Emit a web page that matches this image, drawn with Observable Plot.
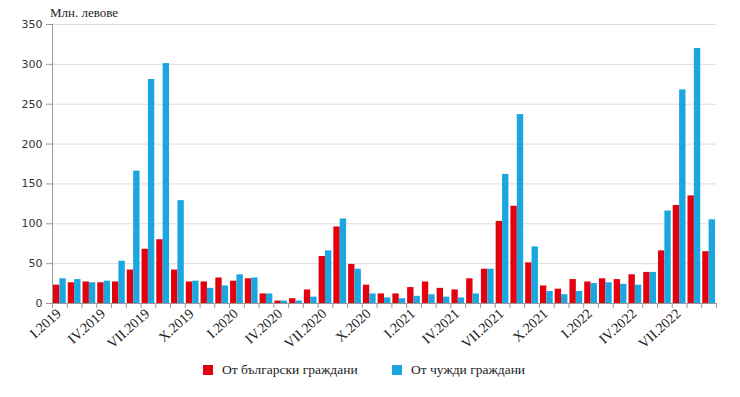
<!DOCTYPE html>
<html>
<head>
<meta charset="utf-8">
<script src="https://cdn.jsdelivr.net/npm/d3@7"></script>
<script src="https://cdn.jsdelivr.net/npm/@observablehq/plot@0.6"></script>
<style>
  html, body { margin: 0; padding: 0; background: #fff; }
  #wrap { position: relative; width: 740px; height: 397px; }
  #unit { position: absolute; left: 50px; top: 5px; font-family: "Liberation Serif", serif; font-size: 13px; color: #222; }
  #legend { position: absolute; left: 0; top: 362px; width: 740px; font-family: "Liberation Serif", serif; font-size: 13.5px; color: #222; }
  .item { position: absolute; top: 0; display: flex; align-items: center; }
  .sw { width: 10px; height: 10px; margin-right: 9px; }
</style>
</head>
<body>
<div id="wrap">
  <div id="chart"></div>
  <div id="unit">Млн. левове</div>
  <div id="legend"></div>
</div>
<script>
const months = [
  "I.2019","II.2019","III.2019","IV.2019","V.2019","VI.2019","VII.2019","VIII.2019","IX.2019","X.2019","XI.2019","XII.2019",
  "I.2020","II.2020","III.2020","IV.2020","V.2020","VI.2020","VII.2020","VIII.2020","IX.2020","X.2020","XI.2020","XII.2020",
  "I.2021","II.2021","III.2021","IV.2021","V.2021","VI.2021","VII.2021","VIII.2021","IX.2021","X.2021","XI.2021","XII.2021",
  "I.2022","II.2022","III.2022","IV.2022","V.2022","VI.2022","VII.2022","VIII.2022","IX.2022"
];
const bulgarian = [
  23, 26, 27, 26, 27, 42, 68, 80, 42, 27, 27, 32,
  28, 31, 12, 3, 6, 17, 59, 96, 49, 23, 12, 12,
  20, 27, 19, 17, 31, 43, 103, 122, 51, 22, 18, 30,
  27, 31, 30, 36, 39, 66, 123, 135, 65
];
const foreign = [
  31, 30, 26, 28, 53, 166, 281, 301, 129, 28, 19, 22,
  36, 32, 12, 3, 3, 8, 66, 106, 43, 12, 7, 6,
  9, 11, 8, 7, 12, 43, 162, 237, 71, 15, 11, 15,
  25, 26, 24, 23, 39, 116, 268, 320, 105
];
const tickLabels = ["I.2019","IV.2019","VII.2019","X.2019","I.2020","IV.2020","VII.2020","X.2020","I.2021","IV.2021","VII.2021","X.2021","I.2022","IV.2022","VII.2022"];
const yTicks = [0, 50, 100, 150, 200, 250, 300, 350];
const seriesNames = ["От български граждани", "От чужди граждани"];
const colors = ["#e3000f", "#1aa7e0"];

const data = months.map((m, i) => ({i, m, bg: bulgarian[i], fg: foreign[i]}));
const labelData = tickLabels.map(t => ({t, i: months.indexOf(t)}));

const chart = Plot.plot({
  width: 740,
  height: 350,
  marginLeft: 52,
  marginRight: 24,
  marginTop: 24,
  marginBottom: 47,
  x: {type: "linear", domain: [0, months.length], axis: null},
  y: {domain: [0, 350], axis: null},
  marks: [
    Plot.gridY(yTicks, {stroke: "#dcdcdc", strokeOpacity: 1}),
    Plot.rectY(data, {x1: d => d.i, x2: d => d.i + 0.5, y: "bg", fill: colors[0], insetLeft: 1}),
    Plot.rectY(data, {x1: d => d.i + 0.5, x2: d => d.i + 1, y: "fg", fill: colors[1], insetRight: 1}),
    Plot.ruleY([0], {stroke: "#9a9a9a"}),
    Plot.ruleX([0], {stroke: "#9a9a9a"}),
    Plot.axisY({ticks: yTicks, tickSize: 6, tickPadding: 4, stroke: "#9a9a9a", fill: "#333", fontSize: 11, fontFamily: "DejaVu Sans, sans-serif"}),
    Plot.axisX({ticks: d3.range(0, months.length + 1), tickFormat: () => "", tickSize: 5, stroke: "#9a9a9a"}),
    Plot.text(labelData, {x: d => d.i + 0.5, y: 0, text: "t", rotate: -42, textAnchor: "end", dy: 8, dx: -1, fill: "#222", fontSize: 14, fontFamily: "Liberation Serif, serif"})
  ]
});
document.getElementById("chart").appendChild(chart);

const legend = document.getElementById("legend");
const lefts = [203, 392];
seriesNames.forEach((name, k) => {
  const it = document.createElement("div");
  it.className = "item";
  it.style.left = lefts[k] + "px";
  it.innerHTML = `<span class="sw" style="background:${colors[k]}"></span><span>${name}</span>`;
  legend.appendChild(it);
});
</script>
</body>
</html>
